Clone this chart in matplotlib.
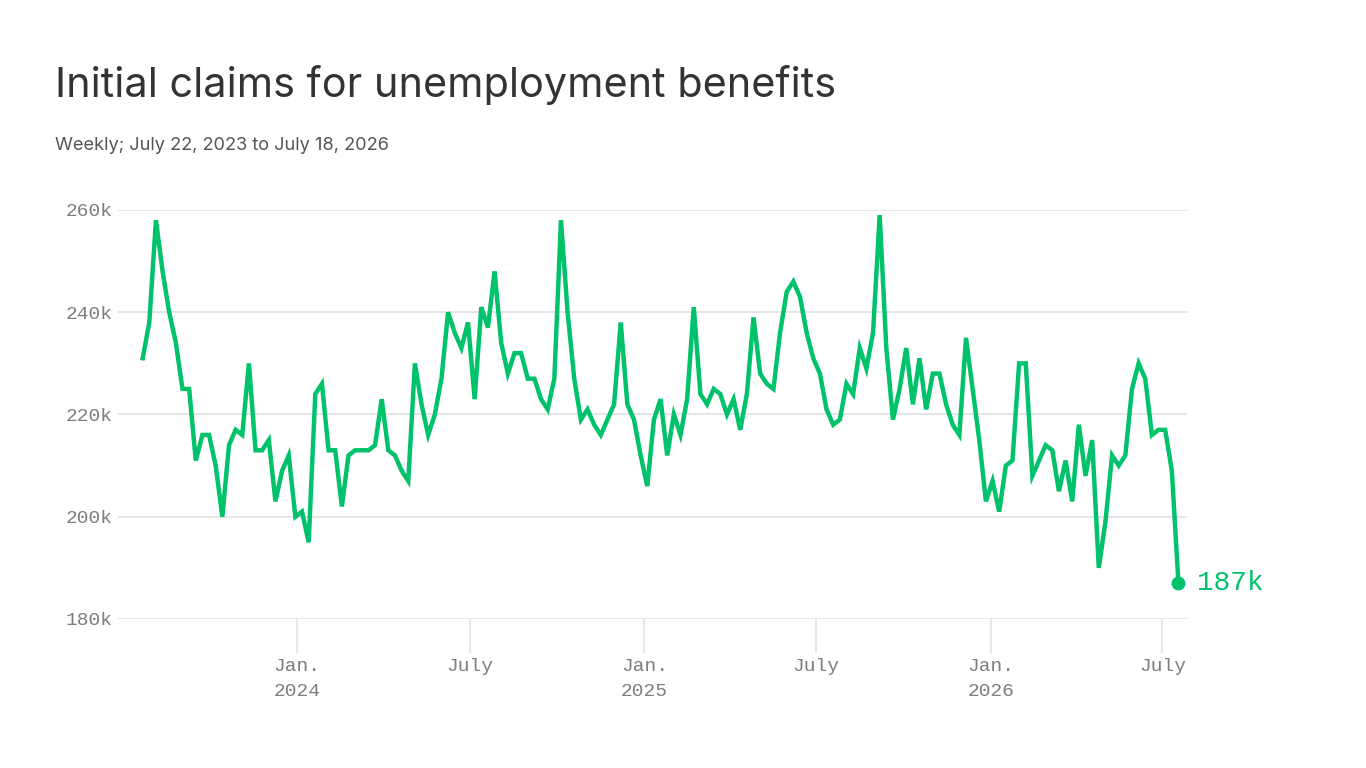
import numpy as np
import pandas as pd
import matplotlib
matplotlib.use("Agg")
import matplotlib.pyplot as plt
import matplotlib.dates as mdates
from matplotlib.ticker import FuncFormatter, FixedLocator

# weekly initial claims, thousands
start_date = "2023-07-22"
claims = [
    231, 238, 258, 248, 240, 234, 225, 225, 211, 216,
    216, 210, 200, 214, 217, 216, 230, 213, 213, 215,
    203, 209, 212, 200, 201, 195, 224, 226, 213, 213,
    202, 212, 213, 213, 213, 214, 223, 213, 212, 209,
    207, 230, 222, 216, 220, 227, 240, 236, 233, 238,
    223, 241, 237, 248, 234, 228, 232, 232, 227, 227,
    223, 221, 227, 258, 240, 227, 219, 221, 218, 216,
    219, 222, 238, 222, 219, 212, 206, 219, 223, 212,
    220, 216, 223, 241, 224, 222, 225, 224, 220, 223,
    217, 224, 239, 228, 226, 225, 236, 244, 246, 243,
    236, 231, 228, 221, 218, 219, 226, 224, 233, 229,
    236, 259, 233, 219, 225, 233, 222, 231, 221, 228,
    228, 222, 218, 216, 235, 225, 215, 203, 207, 201,
    210, 211, 230, 230, 208, 211, 214, 213, 205, 211,
    203, 218, 208, 215, 190, 199, 212, 210, 212, 225,
    230, 227, 216, 217, 217, 209, 187,
]
dates = pd.date_range(start_date, periods=len(claims), freq="7D")

y_ticks = [180, 200, 220, 240, 260]
x_ticks = ["2024-01-01", "2024-07-01", "2025-01-01", "2025-07-01", "2026-01-01", "2026-07-01"]
title = "Initial claims for unemployment benefits"
subtitle = "Weekly; July 22, 2023 to July 18, 2026"

green = "#00c26b"
gray_text = "#7d7d7d"
grid_col = "#e3e3e3"
mono = "Liberation Mono"

fig = plt.figure(figsize=(13.66, 7.68), dpi=100)
ax = fig.add_axes([118 / 1366, 1 - 619 / 768, (1187 - 118) / 1366, (619 - 210) / 768])

ax.plot(dates, claims, color=green, lw=3.2, solid_joinstyle="miter", clip_on=False, zorder=3)
ax.plot(dates[-1:], claims[-1:], "o", color=green, ms=9, clip_on=False, zorder=4)
ax.annotate(f"{claims[-1]}k", (dates[-1], claims[-1]), xytext=(13, 0), textcoords="offset points",
            va="center", ha="left", color=green, fontsize=20, family=mono,
            annotation_clip=False)

ax.set_ylim(180, 260)
ax.set_yticks(y_ticks)
ax.yaxis.set_major_formatter(FuncFormatter(lambda v, p: f"{int(v)}k"))
ax.set_xlim(pd.Timestamp("2023-06-26"), pd.Timestamp("2026-07-27"))

ax.xaxis.set_major_locator(FixedLocator(mdates.date2num(pd.to_datetime(x_ticks))))


def fmt_date(v, pos):
    d = mdates.num2date(v)
    if d.month == 1:
        return f"Jan.\n{d.year}"
    return "July"


ax.xaxis.set_major_formatter(FuncFormatter(fmt_date))

for s in ax.spines.values():
    s.set_visible(False)
ax.grid(axis="y", color=grid_col, lw=1.3)
ax.set_axisbelow(True)
ax.tick_params(axis="y", length=0, pad=4, labelsize=14, labelcolor=gray_text)
ax.tick_params(axis="x", length=24.5, width=1.2, color=grid_col, pad=3.5,
               labelsize=14, labelcolor=gray_text)
for lab in ax.get_xticklabels() + ax.get_yticklabels():
    lab.set_family(mono)
for lab in ax.get_xticklabels():
    lab.set_linespacing(1.65)

fig.text(55 / 1366, 1 - 97 / 768, title, fontsize=29.8, color="#333333", family="Inter",
         ha="left", va="baseline")
fig.text(55 / 1366, 1 - 150 / 768, subtitle, fontsize=13.1, color="#555555", family="Inter",
         ha="left", va="baseline")

fig.savefig("out.png", dpi=100)
